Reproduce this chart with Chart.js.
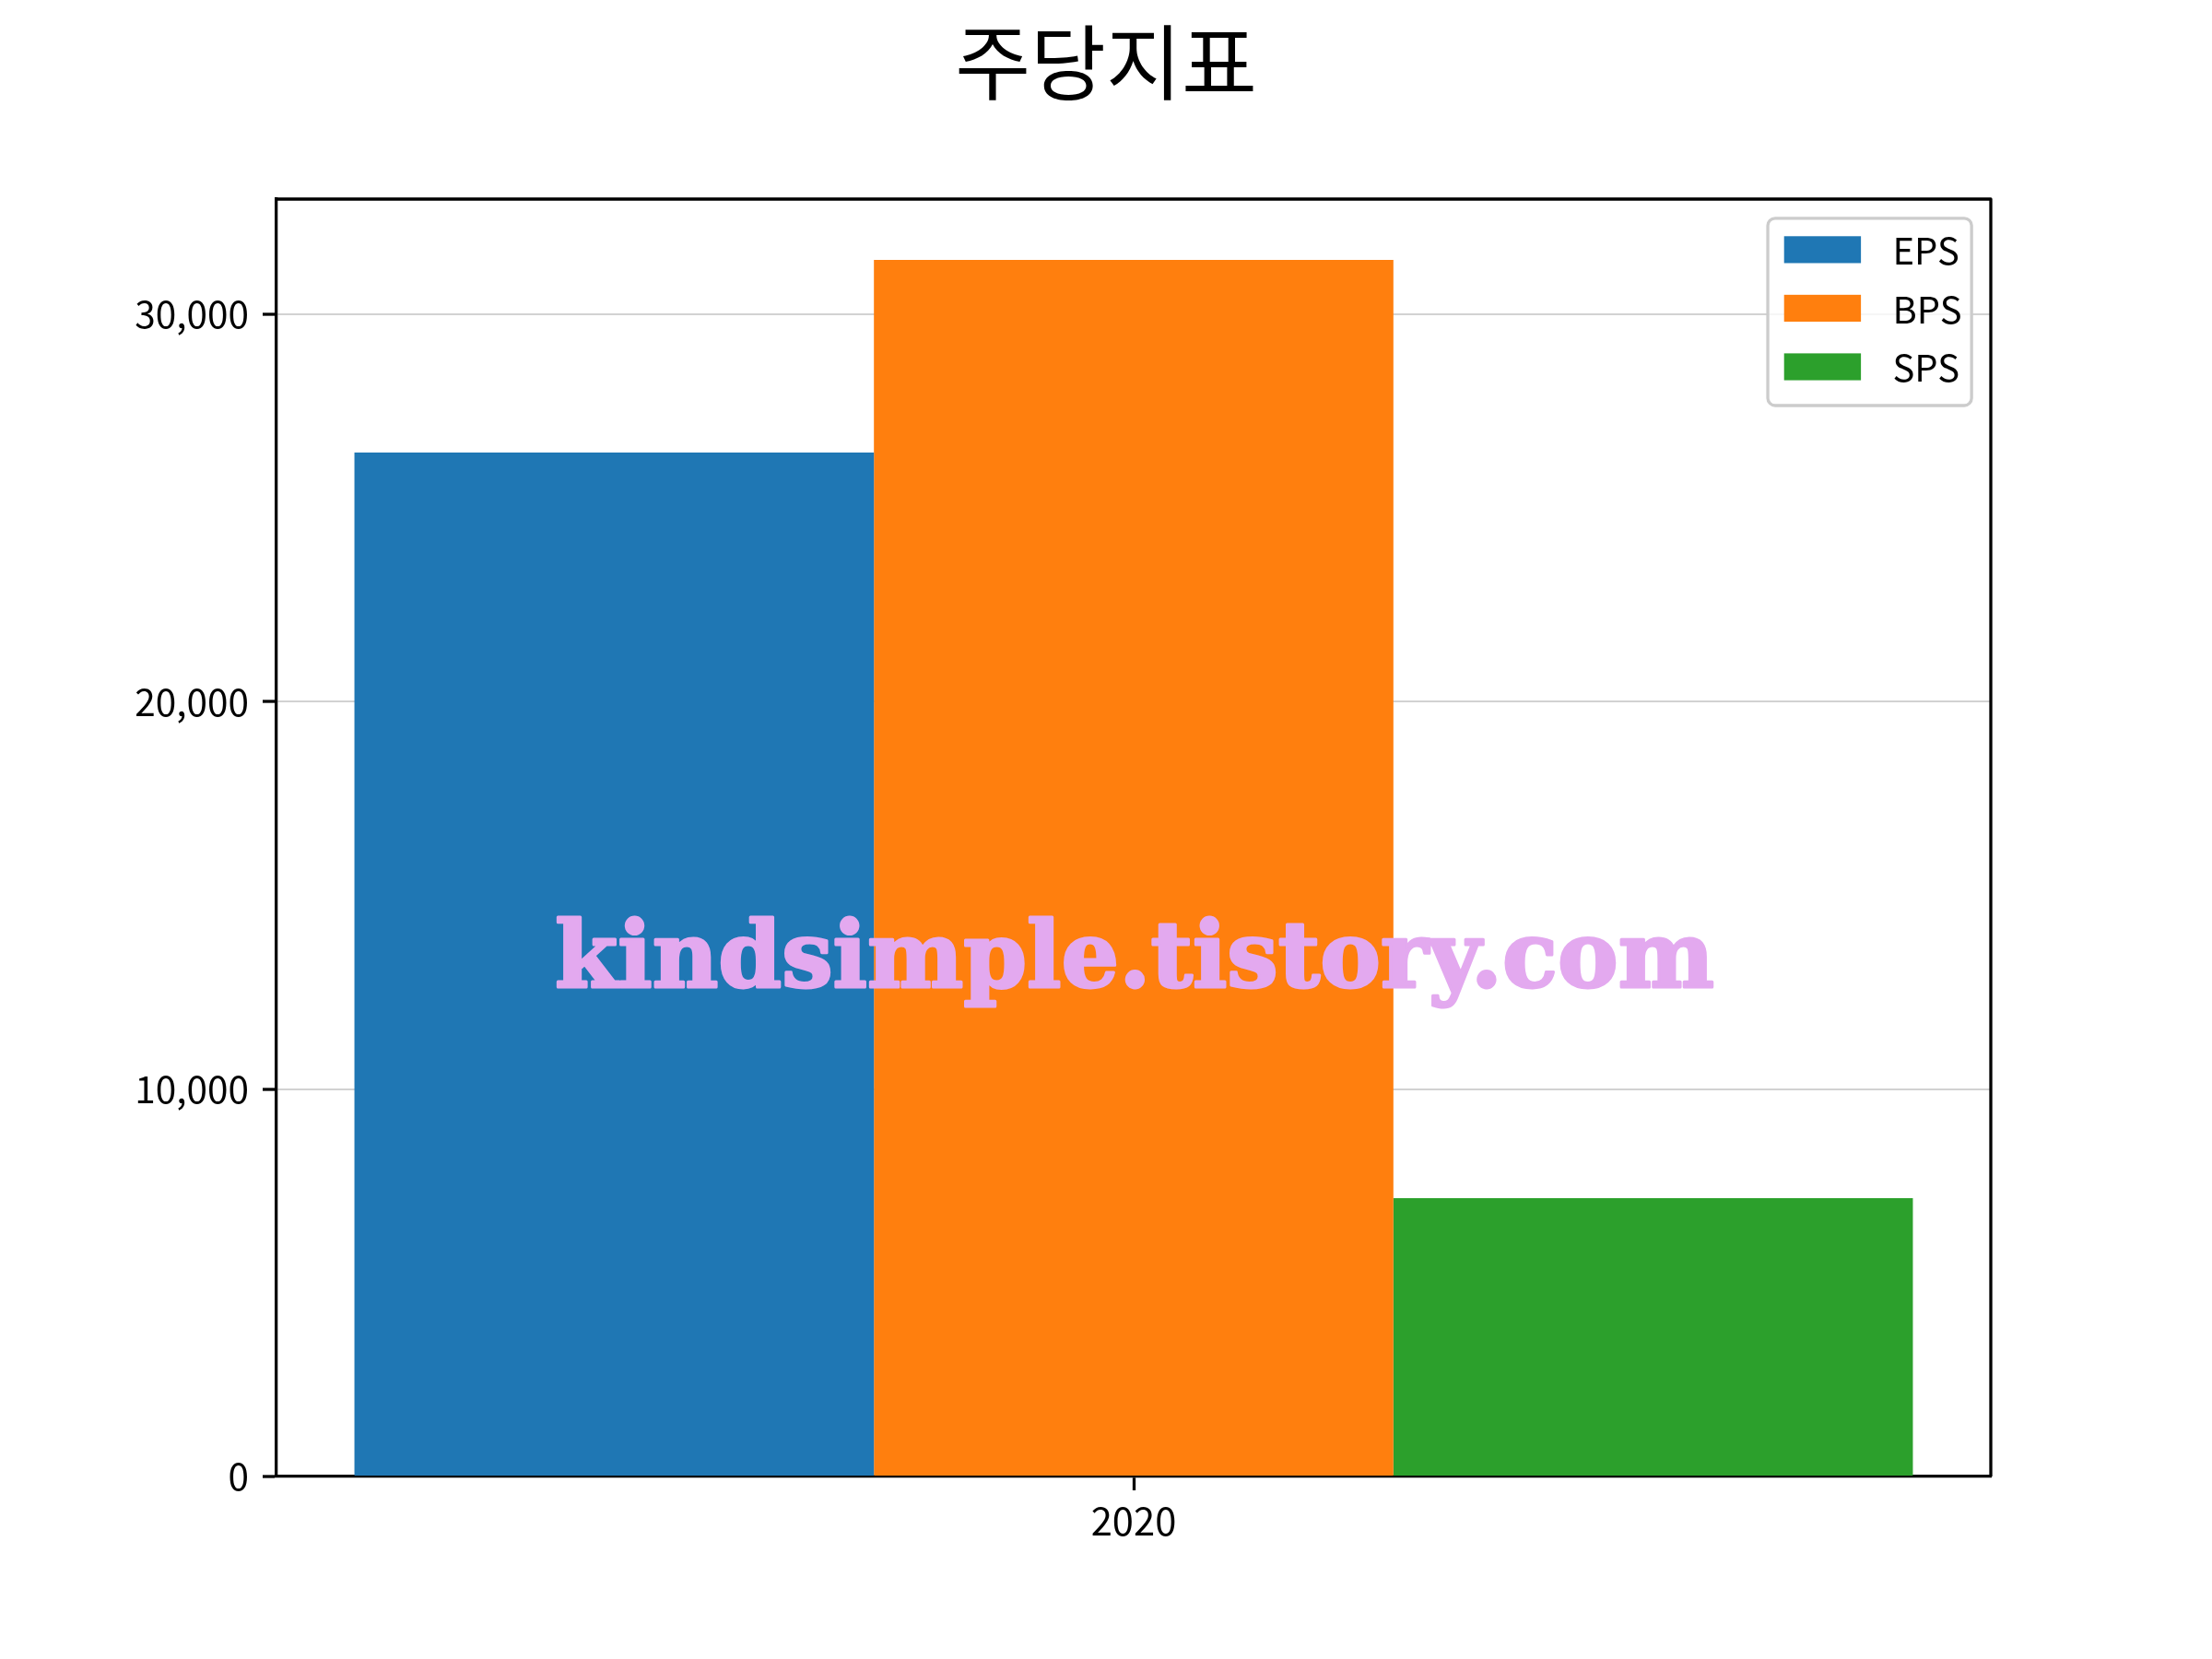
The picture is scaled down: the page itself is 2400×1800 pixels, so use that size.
<!DOCTYPE html>
<html>
<head>
<meta charset="utf-8">
<script src="https://cdn.jsdelivr.net/npm/chart.js@4/dist/chart.umd.min.js"></script>
<style>
  html, body { margin: 0; padding: 0; background: #ffffff; }
  #wrap { width: 2400px; height: 1800px; }
</style>
</head>
<body>
<div id="wrap"><canvas id="c" width="2400" height="1800"></canvas></div>
<script>
// ---- data ----
const categories = ['2020'];
const seriesNames = ['EPS', 'BPS', 'SPS'];
const epsValues = [26430];
const bpsValues = [31400];
const spsValues = [7185];
const yTickValues = [0, 10000, 20000, 30000];
const titleText = '주당지표';
const watermarkText = 'kindsimple.tistory.com';

const colors = ['#1f77b4', '#ff7f0e', '#2ca02c'];
const seriesValues = [epsValues, bpsValues, spsValues];
const yMax = Math.max(...epsValues, ...bpsValues, ...spsValues) * 1.05;

const FS = 41.7; // 10pt @ 300dpi
const TFS = 40.5; // tick label font
const FONT = "'Noto Sans CJK KR', 'Noto Sans', sans-serif";

const framePlugin = {
  id: 'frame',
  afterDraw(chart) {
    const {ctx, chartArea: a} = chart;
    ctx.save();
    // watermark
    ctx.fillStyle = '#e3a9ef';
    ctx.strokeStyle = '#e3a9ef';
    let size = 100;
    ctx.font = `bold ${size}px 'DejaVu Serif', serif`;
    const w = ctx.measureText(watermarkText).width;
    size = size * 1258 / w;
    ctx.font = `bold ${size}px 'DejaVu Serif', serif`;
    ctx.textAlign = 'center';
    ctx.textBaseline = 'alphabetic';
    ctx.lineWidth = 3;
    ctx.lineJoin = 'round';
    ctx.fillText(watermarkText, 1231, 1071);
    ctx.strokeText(watermarkText, 1231, 1071);

    // frame (top and right spines)
    ctx.strokeStyle = '#000000';
    ctx.lineWidth = 3.3;
    ctx.beginPath();
    ctx.moveTo(a.left, a.top);
    ctx.lineTo(a.right, a.top);
    ctx.lineTo(a.right, a.bottom);
    ctx.stroke();

    // legend
    const pad = 0.4 * FS, handleLen = 2.0 * FS, handleH = 0.7 * FS, textPad = 0.8 * FS;
    const rowH = 42.7, gap = 0.5 * FS;
    const LFS = 40;
    ctx.font = `${LFS}px ${FONT}`;
    const items = chart.data.datasets.map(d => ({label: d.label, color: d.backgroundColor}));
    const maxW = Math.max(...items.map(it => ctx.measureText(it.label).width));
    const boxW = pad + handleLen + textPad + maxW + pad - 4;
    const boxH = 2 * pad + items.length * rowH + (items.length - 1) * gap;
    const bx = a.right - 0.5 * FS - boxW;
    const by = a.top + 0.5 * FS;
    const r = 8;
    ctx.beginPath();
    ctx.roundRect(bx, by, boxW, boxH, r);
    ctx.fillStyle = 'rgba(255,255,255,0.8)';
    ctx.fill();
    ctx.strokeStyle = '#cccccc';
    ctx.lineWidth = 3.3;
    ctx.stroke();
    ctx.textAlign = 'left';
    ctx.textBaseline = 'middle';
    items.forEach((it, i) => {
      const cy = by + pad + rowH / 2 + i * (rowH + gap) - 4;
      ctx.fillStyle = it.color;
      ctx.fillRect(bx + pad + 1, cy - handleH / 2, handleLen, handleH);
      ctx.fillStyle = '#000000';
      ctx.fillText(it.label, bx + pad + handleLen + textPad + 2, cy + 1);
    });
    ctx.restore();
  }
};

new Chart(document.getElementById('c'), {
  type: 'bar',
  data: {
    labels: categories,
    datasets: seriesNames.map((name, i) => ({
      label: name,
      data: seriesValues[i],
      backgroundColor: colors[i],
      borderWidth: 0,
      categoryPercentage: 1 / 1.1,
      barPercentage: 1.0
    }))
  },
  options: {
    responsive: false,
    maintainAspectRatio: false,
    devicePixelRatio: 1,
    animation: false,
    layout: { padding: { left: 0, right: 0, top: 0, bottom: 0 } },
    plugins: {
      legend: { display: false },
      tooltip: { enabled: false },
      title: {
        display: true,
        text: titleText,
        color: '#000000',
        font: { family: FONT, size: 89, weight: 'normal', lineHeight: 1.2 },
        padding: { top: 13.6, bottom: 95.6 }
      }
    },
    scales: {
      x: {
        z: 1,
        offset: true,
        grid: {
          offset: false,
          drawOnChartArea: false,
          drawTicks: true,
          tickLength: 15,
          tickColor: '#000000',
          tickWidth: 3.3
        },
        border: { display: true, color: '#000000', width: 3.3 },
        ticks: {
          color: '#000000',
          font: { family: FONT, size: FS },
          padding: 8
        },
        afterFit(scale) { scale.height = 198; }
      },
      y: {
        z: 1,
        min: 0,
        max: yMax,
        afterBuildTicks(scale) { scale.ticks = yTickValues.map(v => ({ value: v })); },
        grid: {
          color: '#d2d2d2',
          lineWidth: 2,
          drawTicks: true,
          tickLength: 15,
          tickColor: '#000000',
          tickWidth: 3.3
        },
        border: { display: true, color: '#000000', width: 3.3 },
        ticks: {
          color: '#000000',
          font: { family: FONT, size: TFS },
          padding: 15,
          callback: (v) => Number(v).toLocaleString('en-US')
        },
        afterFit(scale) { scale.width = 300; }
      },
      yRight: {
        position: 'right',
        display: true,
        grid: { display: false, drawTicks: false },
        border: { display: false },
        ticks: { display: false },
        afterFit(scale) { scale.width = 240; }
      }
    }
  },
  plugins: [framePlugin]
});
</script>
</body>
</html>
